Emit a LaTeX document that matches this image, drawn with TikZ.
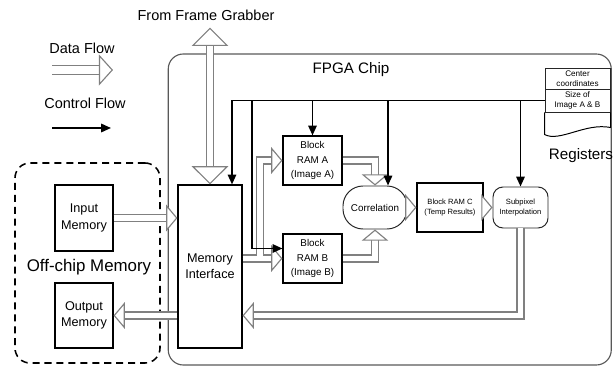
\documentclass[tikz,border=0pt]{standalone}
\usepackage{fontspec}
\setmainfont{Liberation Sans}
\usetikzlibrary{arrows.meta,calc}

\definecolor{dgray}{gray}{0.5}
\definecolor{fgray}{gray}{0.35}

\tikzset{
  blk/.style={draw, line width=0.8pt, inner sep=0pt, align=center},
  soft/.style={draw=black!85, line width=0.7pt, inner sep=0pt, align=center},
  ctrl/.style={line width=1.2pt},
  data/.style={draw=dgray, line width=0.8pt, double=white, double distance=4.2pt, shorten >=3pt},
  datatip/.style={draw=white, line width=0.1pt, -{Triangle[color=dgray, fill=white, length=8pt, width=19pt, line width=0.8pt]}},
  bigtip/.style={draw=white, line width=0.1pt, {Triangle[color=dgray, fill=white, length=13pt, width=26pt, line width=0.8pt]}-{Triangle[color=dgray, fill=white, length=13pt, width=26pt, line width=0.8pt]}},
  lbl/.style={font=\fontsize{10.3}{12}\selectfont, inner sep=1pt}
}

\begin{document}
\begin{tikzpicture}[x=0.25mm, y=-0.25mm, >={Triangle[length=7pt, width=6pt]}]
\useasboundingbox (0,0) rectangle (613,367);

\node[draw=fgray, line width=0.8pt, rounded corners=3.75mm, minimum width=110.75mm, minimum height=77.75mm] (fpga) at (389.75,209.5) {};
\node[draw, line width=1.1pt, dash pattern=on 5pt off 3.5pt, rounded corners=3.75mm, minimum width=36.25mm, minimum height=50mm] (offchip) at (87.5,263) {};

\node[lbl] (grab) at (206,15) {From Frame Grabber};
\node[lbl] (dflbl) at (82,48) {Data Flow};
\node[lbl] (cflbl) at (85,103) {Control Flow};
\node[font=\fontsize{10.8}{12}\selectfont] (fpgalbl) at (351,70) {FPGA Chip};
\node[font=\fontsize{12}{14}\selectfont] (offlbl) at (89,267) {Off-chip Memory};
\node[font=\fontsize{10.8}{12}\selectfont] (reglbl) at (581,156) {Registers};

\node[blk, minimum width=14.5mm, minimum height=16.5mm, font=\fontsize{9}{11.5}\selectfont] (inmem) at (84,218) {Input\\Memory};
\node[blk, minimum width=14.5mm, minimum height=16.25mm, font=\fontsize{9}{11.5}\selectfont] (outmem) at (84,315.5) {Output\\Memory};
\node[blk, minimum width=16mm, minimum height=40.75mm, font=\fontsize{9}{11.5}\selectfont] (memif) at (210,266.5) {Memory\\Interface};

\node[blk, minimum width=14.75mm, minimum height=12.25mm, font=\fontsize{7}{10}\selectfont] (rama) at (312.5,160.5) {Block\\RAM A\\(Image A)};
\node[blk, minimum width=14.75mm, minimum height=12.25mm, font=\fontsize{7}{10}\selectfont] (ramb) at (312.5,258.5) {Block\\RAM B\\(Image B)};
\node[soft, rounded corners=5mm, minimum width=16mm, minimum height=10.75mm, font=\fontsize{7}{9}\selectfont] (corr) at (375,207.5) {Correlation};
\node[blk, minimum width=16.5mm, minimum height=12.25mm, font=\fontsize{5.4}{7}\selectfont] (ramc) at (450,207.5) {Block RAM C\\(Temp Results)};
\node[soft, rounded corners=2.5mm, minimum width=13.75mm, minimum height=10.25mm, font=\fontsize{5.4}{7}\selectfont] (subpix) at (520.5,207.5) {Subpixel\\Interpolation};

\node[soft, minimum width=16.25mm, minimum height=5.25mm, font=\fontsize{5.8}{7}\selectfont] (rega) at (577.5,78.5) {Center\\coordinates};
\node[soft, minimum width=16.25mm, minimum height=5.75mm, font=\fontsize{5.8}{7}\selectfont] (regb) at (577.5,100.5) {Size of\\Image A \& B};
\draw[line width=0.7pt] (regb.south west) -- ++(0,22) .. controls +(15,8) and +(-25,-5) .. ($(regb.south east)+(0,15)$) -- (regb.south east);

\coordinate (dfs) at (52,70);
\coordinate (dfe) at (113,70);
\draw[data, double distance=5.2pt] (dfs) -- (dfe);
\draw[datatip, -{Triangle[color=dgray, fill=white, length=10pt, width=22pt, line width=0.8pt]}] (dfs) -- (dfe);

\draw[data, shorten <=5pt, shorten >=5pt] ([yshift=-4pt]grab.south -| memif.north) -- (memif.north);
\draw[bigtip] ([yshift=-4pt]grab.south -| memif.north) -- (memif.north);

\draw[data] (inmem.east) -- (inmem.east -| memif.west);
\draw[datatip] (inmem.east) -- (inmem.east -| memif.west);
\draw[data] (outmem.east -| memif.west) -- (outmem.east);
\draw[datatip] (outmem.east -| memif.west) -- (outmem.east);

\coordinate (split) at (260,258.5);
\draw[data] (memif.east |- ramb) -- ([xshift=-3pt]ramb.west) (split) |- (rama.west);
\draw[datatip] (memif.east |- ramb) -- (ramb.west);
\draw[datatip] (split) |- (rama.west);

\draw[data] (rama.east) -| (corr.north);
\draw[datatip] (rama.east) -| (corr.north);
\draw[data] (ramb.east) -| (corr.south);
\draw[datatip] (ramb.east) -| (corr.south);
\draw[data] (corr.east) -- (ramc.west);
\draw[datatip] (corr.east) -- (ramc.west);
\draw[data] (ramc.east) -- (subpix.west);
\draw[datatip] (ramc.east) -- (subpix.west);
\draw[data] (subpix.south) |- (memif.east |- outmem);
\draw[datatip] (subpix.south) |- (memif.east |- outmem);

\coordinate (busL) at (232,100.5);
\coordinate (busB) at (252,100.5);
\draw[ctrl,->] (regb.west) -- (busL) -- (busL |- memif.north);
\draw[ctrl,->] (busB) |- ([yshift=2.5mm]ramb.west);
\draw[ctrl,->] (rama.north |- busL) -- (rama.north);
\draw[ctrl,->] ([xshift=3.25mm]corr.north |- busL) -- ([xshift=3.25mm]corr.north);
\draw[ctrl,->] (subpix.north |- busL) -- (subpix.north);

\coordinate (cfs) at (52,128);
\coordinate (cfe) at (111,128);
\draw[ctrl,->] (cfs) -- (cfe);
\end{tikzpicture}
\end{document}
